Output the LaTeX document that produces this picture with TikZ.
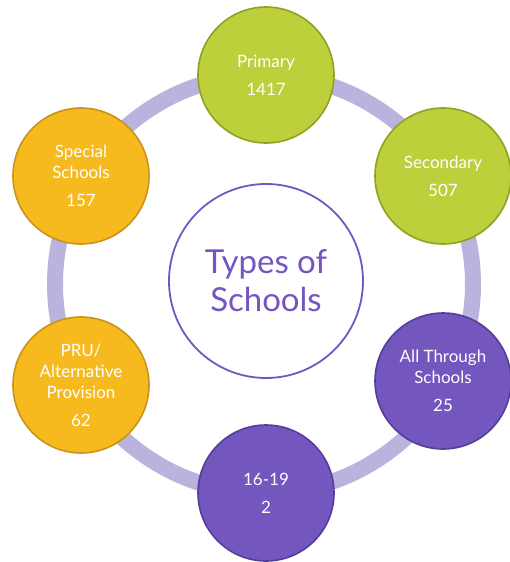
\documentclass[tikz,border=0pt]{standalone}
\usepackage{fontspec}
\setmainfont{Lato}
\usepackage{tikz}
\definecolor{ringcol}{HTML}{BAB3DE}
\definecolor{greenfill}{HTML}{BDCF3B}
\definecolor{greenline}{HTML}{8EA323}
\definecolor{orangefill}{HTML}{F6BA1E}
\definecolor{orangeline}{HTML}{C8941B}
\definecolor{purplefill}{HTML}{7356BE}
\definecolor{purpleline}{HTML}{553D9B}
\definecolor{titlecol}{HTML}{7455C2}
\tikzset{
  bubble/.style={circle,minimum size=136pt,inner sep=0pt,line width=1.6pt,text=white,
    align=center,font=\fontsize{17}{21}\selectfont},
  greenbub/.style={bubble,draw=greenline,fill=greenfill},
  orangebub/.style={bubble,draw=orangeline,fill=orangefill},
  purplebub/.style={bubble,draw=purpleline,fill=purplefill},
}

\begin{document}
\begin{tikzpicture}[x=1pt,y=-1pt]
        \useasboundingbox (0,0) rectangle (509,562);
        %ring
        \coordinate (mid) at (264,284);
        \draw[ringcol,line width=16pt] (mid) circle (209);
        %centre
        \node[circle,draw=titlecol,fill=white,line width=1.8pt,minimum size=194pt,inner sep=0pt,
          text=titlecol,align=center,font=\fontsize{33}{38}\selectfont] (types) at (266,281) {Types of\\Schools};
        %schools
        \node[greenbub] (primary) at (266,75) {Primary\\[7pt]1417};
        \node[greenbub] (secondary) at (443,176) {Secondary\\[7pt]507};
        \node[purplebub] (allthrough) at (443,381) {All Through\\Schools\\[7pt]25};
        \node[purplebub] (sixteen) at (266,493) {16-19\\[7pt]2};
        \node[orangebub] (pru) at (81,385) {PRU/\\Alternative\\Provision\\[7pt]62};
        \node[orangebub] (special) at (81,176) {Special\\Schools\\[7pt]157};
        \end{tikzpicture}
\end{document}
